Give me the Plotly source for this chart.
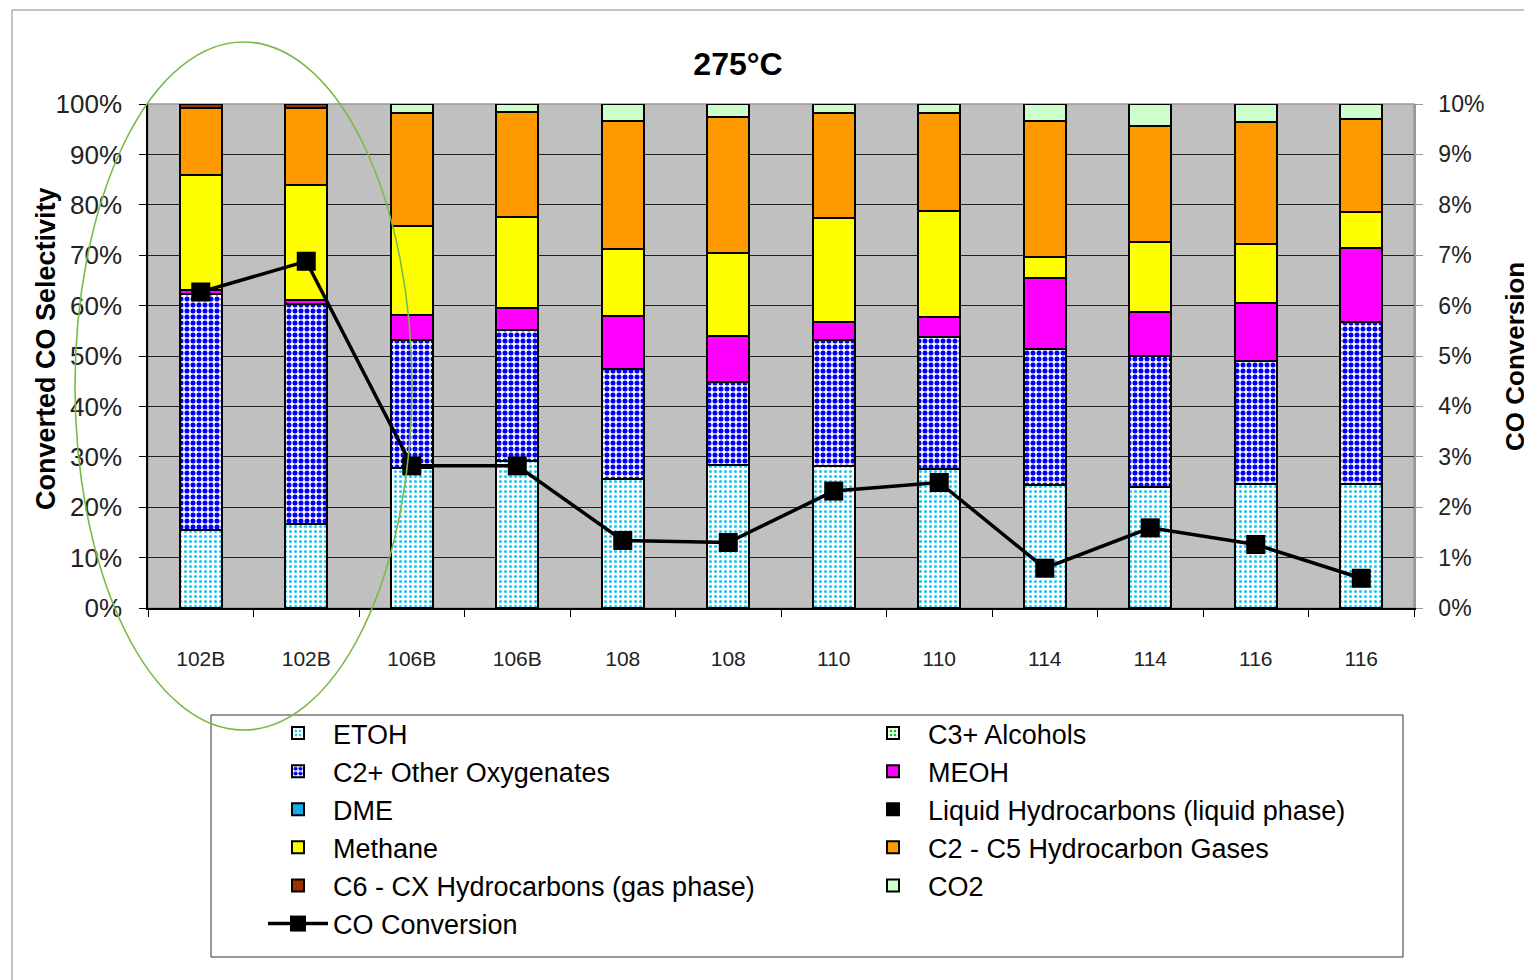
import plotly.graph_objects as go

categories = ["102B", "102B", "106B", "106B", "108", "108", "110", "110", "114", "114", "116", "116"]

etoh        = [15.5, 16.7, 27.8, 29.2, 25.5, 28.4, 28.2, 27.6, 24.4, 24.1, 24.7, 24.7]
c3_alcohols = [0, 0, 0, 0, 0, 0, 0, 0, 0, 0, 0, 0]
c2_oxy      = [46.8, 43.6, 25.4, 26.0, 21.9, 16.5, 25.0, 26.2, 26.9, 26.0, 24.3, 32.1]
meoh        = [0.7, 0.9, 4.9, 4.3, 10.6, 9.1, 3.6, 4.0, 14.2, 8.7, 11.5, 14.6]
dme         = [0, 0, 0, 0, 0, 0, 0, 0, 0, 0, 0, 0]
liquid_hc   = [0, 0, 0, 0, 0, 0, 0, 0, 0, 0, 0, 0]
methane     = [23.0, 22.7, 17.6, 18.1, 13.2, 16.5, 20.6, 21.0, 4.1, 13.9, 11.7, 7.2]
c2_c5       = [13.3, 15.4, 22.5, 20.8, 25.5, 27.0, 20.9, 19.5, 27.1, 23.0, 24.3, 18.4]
c6_cx       = [0.7, 0.7, 0, 0, 0, 0, 0, 0, 0, 0, 0, 0]
co2         = [0, 0, 1.8, 1.6, 3.3, 2.5, 1.7, 1.7, 3.3, 4.3, 3.5, 3.0]
co_conversion = [6.27, 6.88, 2.82, 2.82, 1.34, 1.30, 2.32, 2.49, 0.79, 1.59, 1.26, 0.59]

FONT = "Liberation Sans, Arial, sans-serif"
xpos = list(range(len(categories)))

series = [
    ("ETOH", etoh, dict(color="white", pattern=dict(shape=".", fgcolor="#1EC8F5", bgcolor="white", size=5, solidity=0.3, fillmode="replace"))),
    ("C3+ Alcohols", c3_alcohols, dict(color="white", pattern=dict(shape=".", fgcolor="#00CC00", bgcolor="white", size=5, solidity=0.35, fillmode="replace"))),
    ("C2+ Other Oxygenates", c2_oxy, dict(color="white", pattern=dict(shape=".", fgcolor="#0000FF", bgcolor="white", size=6, solidity=0.55, fillmode="replace"))),
    ("MEOH", meoh, dict(color="#FF00FF")),
    ("DME", dme, dict(color="#10AEEA")),
    ("Liquid Hydrocarbons (liquid phase)", liquid_hc, dict(color="#000000")),
    ("Methane", methane, dict(color="#FFFF00")),
    ("C2 - C5 Hydrocarbon Gases", c2_c5, dict(color="#FF9900")),
    ("C6 - CX Hydrocarbons (gas phase)", c6_cx, dict(color="#993300")),
    ("CO2", co2, dict(color="#CCFFCC")),
]

fig = go.Figure()
for name, vals, mk in series:
    mk = dict(mk)
    mk["line"] = dict(color="black", width=2)
    fig.add_trace(go.Bar(
        x=xpos, y=[v / 100 for v in vals], name=name, marker=mk,
    ))

fig.add_trace(go.Scatter(
    x=xpos, y=[v / 100 for v in co_conversion], name="CO Conversion", yaxis="y2",
    mode="lines+markers",
    line=dict(color="black", width=3.5),
    marker=dict(symbol="square", size=19, color="black"),
))

# page offset (body margin of the html page)
OFF = 8
W, H = 1532 - OFF, 980 - OFF
# plot area in page pixels
L, R, T, B = 148, 1414, 104, 608
pw, ph = R - L, B - T

def px(x):
    return (x - L) / pw

def py(y):
    return (B - y) / ph

fig.update_layout(
    width=W, height=H,
    margin=dict(l=L - OFF, r=W + OFF - R, t=T - OFF, b=H + OFF - B),
    paper_bgcolor="white",
    plot_bgcolor="#C0C0C0",
    barmode="stack",
    bargap=0.6,
    font=dict(family=FONT, color="black"),
    title=dict(text="<b>275°C</b>", x=(738 - OFF) / W, xanchor="center",
               y=1 - (64 - OFF) / H, yanchor="middle",
               font=dict(size=32, family=FONT, color="black")),
    xaxis=dict(
        range=[-0.5, len(categories) - 0.5],
        tickmode="array", tickvals=xpos, ticktext=categories,
        ticks="", showgrid=False, zeroline=False,
        showline=True, linecolor="black", linewidth=1.5,
        tickfont=dict(size=21, color="#222"),
        ticklabelstandoff=31,
        minor=dict(tickmode="linear", tick0=0.5, dtick=1, ticks="outside", ticklen=7,
                   tickcolor="black", tickwidth=1, showgrid=False),
    ),
    yaxis=dict(
        range=[0, 1], tickmode="linear", tick0=0, dtick=0.1, tickformat=".0%",
        showgrid=True, gridcolor="#222222", gridwidth=1.3, zeroline=False,
        showline=True, linecolor="black", linewidth=1.5,
        ticks="outside", ticklen=7, tickcolor="black",
        tickfont=dict(size=26, color="#222"), ticklabelstandoff=12,
    ),
    yaxis2=dict(
        range=[0, 0.1], tickmode="linear", tick0=0, dtick=0.01, tickformat=".0%",
        overlaying="y", side="right", showgrid=False, zeroline=False,
        showline=True, linecolor="#999999", linewidth=1.5,
        ticks="outside", ticklen=7, tickcolor="#999999",
        tickfont=dict(size=23, color="#222"), ticklabelstandoff=11,
    ),
    legend=dict(
        orientation="h", x=px(263), xanchor="left", y=py(709), yanchor="top",
        entrywidth=520, entrywidthmode="pixels", itemwidth=60,
        font=dict(size=27, family=FONT, color="black"),
        borderwidth=0, bgcolor="rgba(0,0,0,0)",
        traceorder="normal",
    ),
    showlegend=True,
    annotations=[
        dict(text="<b>Converted CO Selectivity</b>", xref="paper", yref="paper",
             x=px(46), y=py(349), xanchor="center", yanchor="middle", textangle=-90,
             showarrow=False, font=dict(size=27, family=FONT, color="black")),
        dict(text="<b>CO Conversion</b>", xref="paper", yref="paper",
             x=px(1515), y=py(357), xanchor="center", yanchor="middle", textangle=-90,
             showarrow=False, font=dict(size=26, family=FONT, color="black")),
    ],
    shapes=[
        dict(type="rect", xref="paper", yref="paper", x0=0, x1=1, y0=0, y1=1,
             line=dict(color="#999999", width=1.5), layer="below"),
        dict(type="rect", xref="paper", yref="paper", x0=px(12), x1=px(1545), y0=py(990), y1=py(10),
             line=dict(color="#888888", width=1), layer="below"),
        dict(type="rect", xref="paper", yref="paper", x0=px(211), x1=px(1403), y0=py(957), y1=py(715),
             line=dict(color="#333333", width=1), layer="below"),
        dict(type="circle", xref="paper", yref="paper", x0=px(75), x1=px(412), y0=py(730), y1=py(42),
             line=dict(color="#77BB44", width=1.6), layer="above"),
    ],
)

fig.write_html("out.html")
